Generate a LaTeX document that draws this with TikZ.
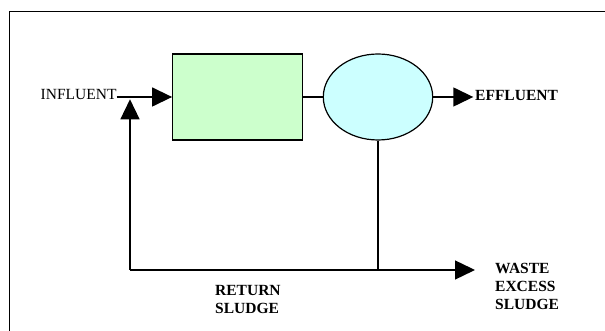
\documentclass[tikz,border=0pt]{standalone}
\usepackage{fontspec}
\setmainfont{Liberation Serif}
\usetikzlibrary{arrows.meta,shapes.geometric}
\definecolor{tankgreen}{HTML}{CCFFCC}
\definecolor{clarcyan}{HTML}{CCFFFF}
\begin{document}
\begin{tikzpicture}[x=1pt,y=1pt,
  flow/.style={draw=black,line width=1.4pt},
  tip/.style={-{Triangle[length=20pt,width=19pt]}},
  lbl/.style={font=\fontsize{15.5}{18}\selectfont,inner sep=0pt,align=left},
  blbl/.style={lbl,font=\fontsize{15.5}{18}\selectfont\bfseries},
  shapeline/.style={draw=black,line width=1.2pt}]
\useasboundingbox (0,0) rectangle (605,331);
\fill[white] (0,0) rectangle (605,331);
% frame
\draw[line width=1.6pt] (9.5,0) -- (9.5,319.5) -- (605,319.5);
% units
\node[shapeline,fill=tankgreen,rectangle,minimum width=130pt,minimum height=86pt,inner sep=0pt] (tank) at (237.7,234) {};
\node[shapeline,fill=clarcyan,ellipse,minimum width=109.4pt,minimum height=86pt,inner sep=0pt] (clar) at (378,234) {};
% labels
\node[lbl,anchor=base east] (infl) at (116.7,231) {INFLUENT};
\node[blbl,anchor=base west] (effl) at (475,230.3) {EFFLUENT};
\node[blbl,anchor=base west] (ret) at (215,17.7) {RETURN\\SLUDGE};
\node[blbl,anchor=base west] (waste) at (495,21) {WASTE\\EXCESS\\SLUDGE};
% coordinates
\coordinate (inend) at (116.7,234);
\coordinate (rettop) at (130,231.7);
\coordinate (retcorner) at (130,61);
\coordinate (junction) at (clar.south |- retcorner);
\coordinate (wasteend) at (475,61);
\coordinate (efflend) at (473.3,234);
% connectors
\draw[flow,tip] (inend) -- (tank.west);
\draw[flow] (tank.east) -- (clar.west);
\draw[flow,tip] (clar.east) -- (efflend);
\draw[flow] (clar.south) -- (junction);
\draw[flow,tip] (retcorner) -- (wasteend);
\draw[flow,tip] (retcorner) -- (rettop);
\end{tikzpicture}
\end{document}
